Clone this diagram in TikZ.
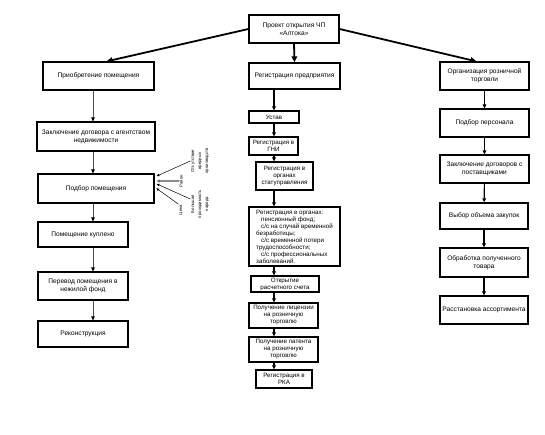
\documentclass[tikz,border=0pt]{standalone}
\usepackage{fontspec}
\setmainfont{Liberation Sans}
\usetikzlibrary{positioning, arrows.meta}

\begin{document}
\begin{tikzpicture}[x=1pt, y=-1pt,
		every edge/.style = {draw=black, line width=1.1pt,
			-{Triangle[length=4pt,width=3.6pt]}},
		box/.style args = {#1/#2}{%
			rectangle, draw, line width=1.2pt, fill=white,
			inner sep=1pt, align=center,
			font=\fontsize{6.6}{7.8}\selectfont,
			minimum width=#1pt, minimum height=#2pt},
		tight/.style = {font=\fontsize{6.2}{7}\selectfont, inner ysep=0.3pt},
		lbl/.style = {font=\fontsize{4.3}{7}\selectfont,
			align=center, rotate=90, inner sep=0.5pt},
		bigarrow/.style = {line width=1.8pt,
			-{Triangle[length=6pt,width=5.5pt]}},
		thinarrow/.style = {draw=black!70, line width=0.7pt,
			-{Triangle[length=4pt,width=3.6pt,color=black]}},
		side/.style = {line width=0.5pt, shorten >=2pt,
			-{Triangle[length=3pt,width=2.4pt]}},
		sidegrey/.style = {draw=black!45, line width=1.6pt, shorten >=2pt,
			-{Triangle[length=3pt,width=3pt,color=black!60]}}
                    ]
		\fill[white] (0,0) rectangle (545,434);
		\useasboundingbox (0,0) rectangle (545,434);

		\coordinate(lx) at (93,0);
		\coordinate(mx) at (274,0);

		\node(project) [box=90/28] at (294,29) {Проект открытия ЧП\\«Алтока»};

		% left column
		\node(buy)     [box=111/28] at (98.5,76)  {Приобретение помещения};
		\node(deal)    [box=118/29] at (96,136.5) {Заключение договора с агентством\\недвижимости};
		\node(choose)  [box=116/29] at (96,188.5) {Подбор помещения};
		\node(bought)  [box=90/25]  at (83,234.5) {Помещение куплено};
		\node(convert) [box=90/28]  at (83,286)   {Перевод помещения в\\нежилой фонд};
		\node(rebuild) [box=90/26]  at (83,334)   {Реконструкция};

		\node(absent) [lbl] at (200,161) {Отсутствие\\вредных\\производств};
		\node(area)   [lbl] at (181,181) {Район};
		\node(crowd)  [lbl] at (200,204) {Большая\\проходимость\\народа};
		\node(price)  [lbl] at (181,210) {Цена};

		% middle column
		\node(regent)  [box=91/26] at (294.5,76)  {Регистрация предприятия};
		\node(charter) [box=50/12, tight] at (274,117)   {Устав};
		\node(tax)     [box=49/18, tight] at (273.5,146) {Регистрация в\\ГНИ};
		\node(stat)    [box=57/28, tight] at (284.5,176) {Регистрация в\\органах\\статуправления};
		\node(funds)   [box=91/59, tight, align=left] at (294.5,236.5) {Регистрация в органах:\\
			\hspace*{0.8em}пенсионный фонд;\\
			\hspace*{0.8em}с/с на случай временной\\
			безработицы;\\
			\hspace*{0.8em}с/с временной потери\\
			трудоспособности;\\
			\hspace*{0.8em}с/с профессиональных\\
			заболеваний.};
		\node(account) [box=68/16, tight] at (285,284)    {Открытие\\расчетного счета};
		\node(licence) [box=69/25, tight] at (283.5,315.5) {Получение лицензии\\на розничную\\торговлю};
		\node(patent)  [box=69/25, tight] at (283.5,349.5) {Получение патента\\на розничную\\торговлю};
		\node(rka)     [box=56/18, tight] at (284,379)    {Регистрация в\\РКА};

		% right column
		\node(retail) [box=89/28] at (484.5,76)  {Организация розничной\\торговли};
		\node(staff)  [box=89/28] at (484.5,123) {Подбор персонала};
		\node(supply) [box=89/28] at (484.5,169) {Заключение договоров с\\поставщиками};
		\node(volume) [box=88/26] at (484,216)   {Выбор объема закупок};
		\node(goods)  [box=88/29] at (484,262.5) {Обработка полученного\\товара};
		\node(assort) [box=88/28] at (484,310)   {Расстановка ассортимента};

		\path   (project.west)  edge[bigarrow] ([xshift=8pt]buy.north)
		        (project.south) edge[bigarrow] (regent.north)
		        (project.east)  edge[bigarrow] ([xshift=-8pt]retail.north);

		\path   (buy.south -| lx)     edge[thinarrow] (deal.north -| lx)
		        (deal.south -| lx)    edge[thinarrow] (choose.north -| lx)
		        (choose.south -| lx)  edge[thinarrow] (bought.north -| lx)
		        (bought.south -| lx)  edge[thinarrow] (convert.north -| lx)
		        (convert.south -| lx) edge[thinarrow] (rebuild.north -| lx);

		\path   (absent.north)              edge[side]     ([yshift=11.5pt]choose.east)
		        (area.north)                edge[sidegrey] (area.north -| choose.east)
		        ([yshift=5pt]crowd.north)   edge[side]     ([yshift=5.5pt]choose.east)
		        (price.north east)          edge[side]     ([yshift=1.5pt]choose.east);

		\path   (regent.south -| mx)  edge (charter.north -| mx)
		        (charter.south -| mx) edge (tax.north -| mx)
		        (tax.south -| mx)     edge (stat.north -| mx)
		        (stat.south -| mx)    edge (funds.north -| mx)
		        (funds.south -| mx)   edge (account.north -| mx)
		        (account.south -| mx) edge (licence.north -| mx)
		        (licence.south -| mx) edge (patent.north -| mx)
		        (patent.south -| mx)  edge (rka.north -| mx);

		\path   (retail) edge (staff)
		        (staff)  edge (supply)
		        (supply) edge (volume)
		        (volume) edge (goods)
		        (goods)  edge (assort);
	\end{tikzpicture}
\end{document}
